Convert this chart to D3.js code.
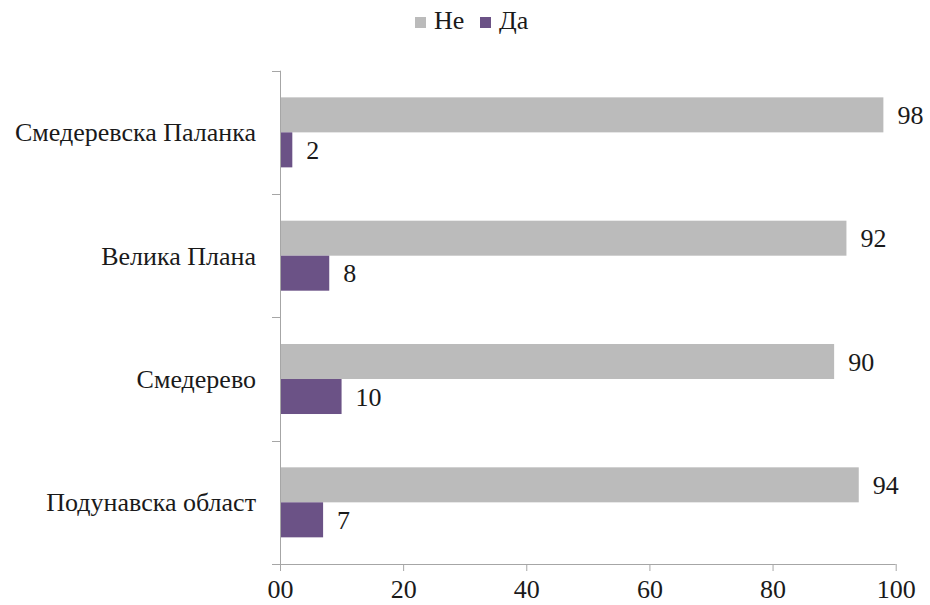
<!DOCTYPE html>
<html>
<head>
<meta charset="utf-8">
<script src="https://cdn.jsdelivr.net/npm/d3@7"></script>
<style>
  html, body { margin: 0; padding: 0; background: #fff; }
</style>
</head>
<body>
<svg id="chart" width="930" height="605"></svg>
<script>
// Regions, top to bottom
const regions = ["Смедеревска Паланка", "Велика Плана", "Смедерево", "Подунавска област"];
// Share of answers per region (%)
const ne = [98, 92, 90, 94];
const da = [2, 8, 10, 7];
const seriesNames = ["Не", "Да"];
const seriesColors = ["#bbbbbb", "#6b5286"];
const tickValues = [0, 20, 40, 60, 80, 100];
const tickLabels = ["00", "20", "40", "60", "80", "100"];

const FONT = "'Liberation Serif', 'Times New Roman', serif";
const fontSize = 26;
const textColor = "#1a1a1a";

const svg = d3.select("#chart")
  .attr("font-family", FONT)
  .style("font-family", FONT);

const x = d3.scaleLinear().domain([0, 100]).range([280, 895.7]);
const y = d3.scaleBand().domain(regions).range([70.7, 564]);
const barH = 35;

const axisColor = "#a6a6a6";

function styleText(sel) {
  return sel.attr("font-family", FONT).style("font-family", FONT)
    .attr("font-size", fontSize).attr("fill", textColor);
}

// Bars with value labels
const rows = regions.map((r, i) => ({ region: r, values: [ne[i], da[i]] }));
const g = svg.append("g");
rows.forEach(row => {
  const cy = y(row.region) + y.bandwidth() / 2;
  row.values.forEach((v, k) => {
    const top = cy - barH + k * barH;
    g.append("rect")
      .attr("x", x(0))
      .attr("y", top)
      .attr("width", x(v) - x(0))
      .attr("height", barH)
      .attr("fill", seriesColors[k]);
    g.append("text")
      .attr("x", x(v) + 14)
      .attr("y", top + barH / 2)
      .attr("dy", "0.35em")
      .call(styleText)
      .text(v);
  });
});

// X axis
const xAxis = d3.axisBottom(x).tickValues(tickValues)
  .tickFormat((d, i) => tickLabels[i]).tickSize(7).tickPadding(9).tickSizeOuter(0);
const xg = svg.append("g").attr("transform", `translate(0,${y.range()[1]})`).call(xAxis);
xg.attr("font-family", FONT);
xg.select(".domain").attr("stroke", axisColor).attr("d", `M${x(0) - 8},0.5H${x(100)}`);
xg.selectAll(".tick line").attr("stroke", axisColor);
xg.selectAll(".tick text").call(styleText);

// Y axis with category separators
const yg = svg.append("g");
const edges = regions.map(r => y(r)).concat([y.range()[1]]);
yg.append("line")
  .attr("x1", x(0) + 0.5).attr("x2", x(0) + 0.5)
  .attr("y1", y.range()[0]).attr("y2", y.range()[1])
  .attr("stroke", axisColor);
yg.selectAll("line.sep").data(edges).join("line")
  .attr("class", "sep")
  .attr("x1", x(0) - 8).attr("x2", x(0))
  .attr("y1", d => Math.round(d) + 0.5).attr("y2", d => Math.round(d) + 0.5)
  .attr("stroke", axisColor);
yg.selectAll("text").data(regions).join("text")
  .attr("x", x(0) - 24)
  .attr("y", d => y(d) + y.bandwidth() / 2)
  .attr("dy", "0.35em")
  .attr("text-anchor", "end")
  .call(styleText)
  .text(d => d);

// Legend
const legendItems = [
  { name: seriesNames[0], color: seriesColors[0], x: 415 },
  { name: seriesNames[1], color: seriesColors[1], x: 480 }
];
const lg = svg.append("g");
legendItems.forEach(it => {
  lg.append("rect").attr("x", it.x).attr("y", 17).attr("width", 11).attr("height", 11).attr("fill", it.color);
  lg.append("text").attr("x", it.x + 19).attr("y", 29).call(styleText).text(it.name);
});
</script>
</body>
</html>
